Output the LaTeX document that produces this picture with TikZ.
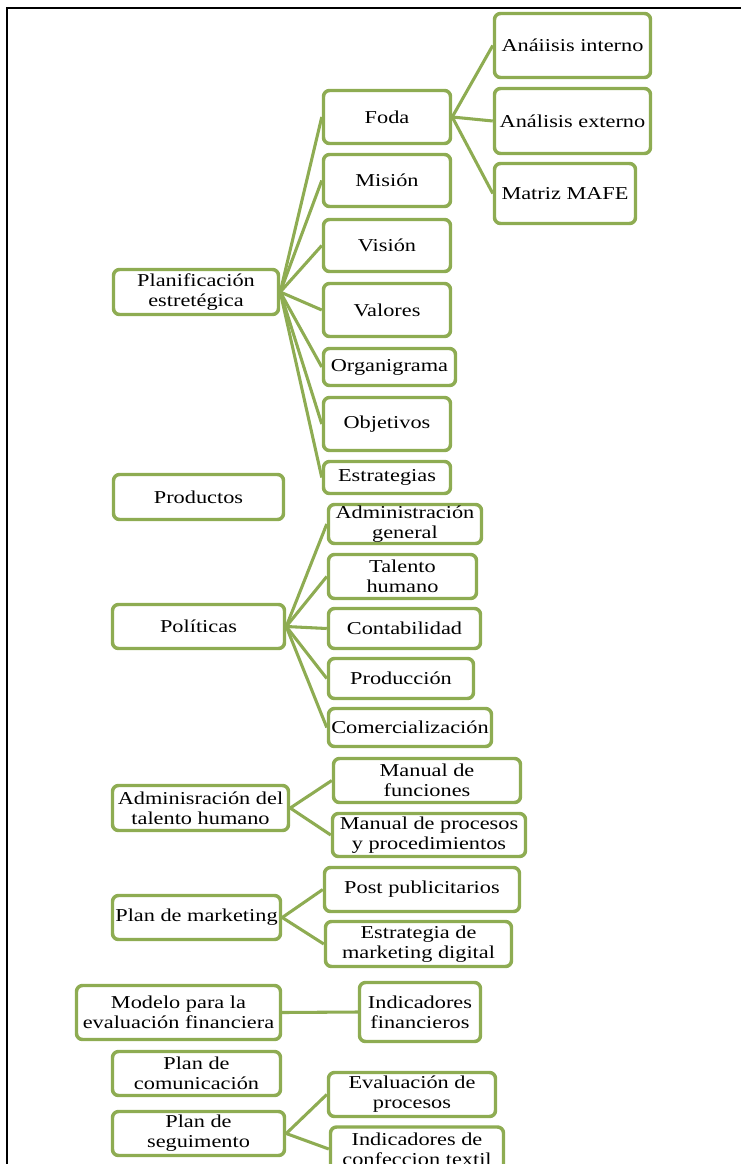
\documentclass[tikz,border=0pt]{standalone}
\usepackage{fontspec}
\setmainfont{Liberation Serif}[FakeStretch=1.23]
\definecolor{olv}{RGB}{142,172,82}
\begin{document}
\begin{tikzpicture}[x=0.75pt,y=-0.75pt,
  bx/.style={draw=olv,line width=2.6pt,rounded corners=4.5pt,fill=white,inner sep=0pt,align=center,
    font=\fontsize{13.6pt}{15pt}\selectfont},
  sz/.style 2 args={minimum width=#1*0.75pt,minimum height=#2*0.75pt},
  cn/.style={draw=olv,line width=2.3pt}]
\useasboundingbox (0,0) rectangle (741,1164);
\clip (0,0) rectangle (741,1164);
\draw[line width=1.6pt] (7,1170) -- (7,8) -- (750,8);
% level 1
\node[bx,sz={165}{45}] (plan) at (196,292) {Planificación\\estretégica};
\node[bx,sz={170}{45}] (prod) at (198.5,497) {Productos};
\node[bx,sz={172}{44}] (pol) at (198.5,626.5) {Políticas};
\node[bx,sz={176}{45}] (adm) at (200.5,808) {Adminisración del\\talento humano};
\node[bx,sz={168}{44}] (mkt) at (196.5,917.5) {Plan de marketing};
\node[bx,sz={204}{54}] (mod) at (178.5,1012.5) {Modelo para la\\evaluación financiera};
\node[bx,sz={168}{44}] (com) at (196.5,1073.5) {Plan de\\comunicación};
\node[bx,sz={172}{44}] (seg) at (198.5,1133.5) {Plan de\\seguimento};
% planificacion children
\node[bx,sz={127}{53}] (foda) at (387,117) {Foda};
\node[bx,sz={127}{52}] (mis) at (387,180.5) {Misión};
\node[bx,sz={127}{52}] (vis) at (387,245.5) {Visión};
\node[bx,sz={127}{53}] (val) at (387,310) {Valores};
\node[bx,sz={132}{37}] (org) at (389.5,367) {Organigrama};
\node[bx,sz={127}{53}] (obj) at (387,424) {Objetivos};
\node[bx,sz={127}{32}] (est) at (387,477.5) {Estrategias};
% foda children
\node[bx,sz={156}{64}] (ai) at (572.5,45.5) {Anáiisis interno};
\node[bx,sz={156}{65}] (ae) at (572.5,121) {Análisis externo};
\node[bx,sz={141}{60}] (maf) at (565,193.5) {Matriz MAFE};
% politicas children
\node[bx,sz={153}{39}] (ag) at (405,524) {Administración\\general};
\node[bx,sz={148}{44}] (th) at (402.5,576.5) {Talento\\humano};
\node[bx,sz={152}{40}] (cont) at (404.5,628.5) {Contabilidad};
\node[bx,sz={145}{40}] (pro) at (401,678.5) {Producción};
\node[bx,sz={163}{38}] (come) at (410,727.5) {Comercialización};
% adm children
\node[bx,sz={187}{44}] (mf) at (427,780.5) {Manual de\\funciones};
\node[bx,sz={193}{43}] (mp) at (429,835) {Manual de procesos\\y procedimientos};
% marketing children
\node[bx,sz={195}{44}] (pp) at (422,889.5) {Post publicitarios};
\node[bx,sz={186}{45}] (emd) at (418.5,944) {Estrategia de\\marketing digital};
% modelo child
\node[bx,sz={121}{59}] (indf) at (420,1012) {Indicadores\\financieros};
% seguimiento children
\node[bx,sz={167}{44}] (evp) at (412,1094.5) {Evaluación de\\procesos};
\node[bx,sz={173}{44}] (ict) at (417,1149) {Indicadores de\\confeccion textil};
% connectors
\foreach \c in {foda,mis,vis,val,org,obj,est} \draw[cn] (plan.east) -- (\c.west);
\foreach \c in {ai,ae,maf} \draw[cn] (foda.east) -- (\c.west);
\foreach \c in {ag,th,cont,pro,come} \draw[cn] (pol.east) -- (\c.west);
\foreach \c in {mf,mp} \draw[cn] (adm.east) -- (\c.west);
\foreach \c in {pp,emd} \draw[cn] (mkt.east) -- (\c.west);
\draw[cn] (mod.east) -- (indf.west);
\foreach \c in {evp,ict} \draw[cn] (seg.east) -- (\c.west);
\end{tikzpicture}
\end{document}
